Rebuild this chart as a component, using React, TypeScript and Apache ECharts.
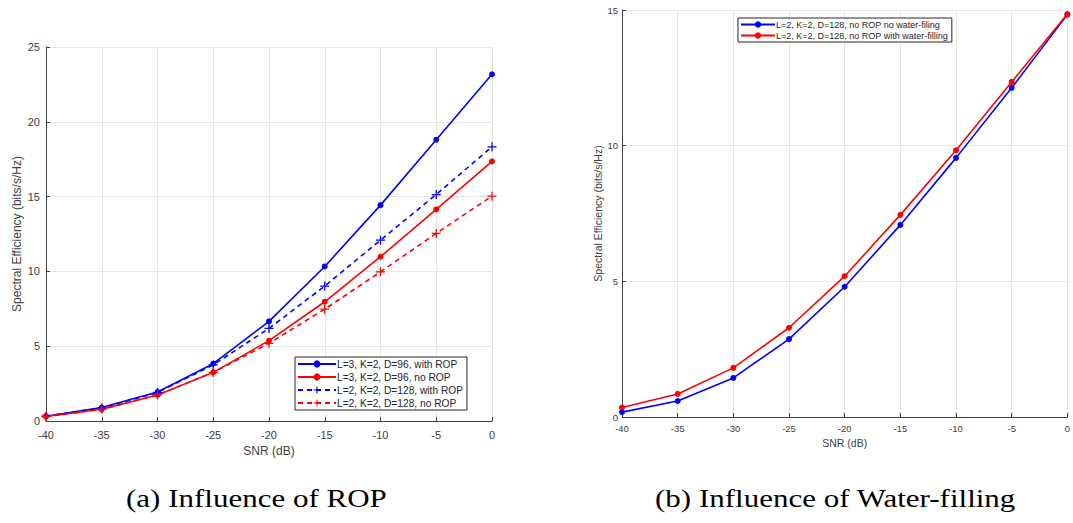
import React, { useEffect, useRef } from "react";
import * as echarts from "echarts";

const snr = [-40, -35, -30, -25, -20, -15, -10, -5, 0];

// Left panel: Influence of ROP
const d96WithRop = [0.32, 0.9, 1.94, 3.83, 6.66, 10.33, 14.43, 18.8, 23.18];
const d96NoRop = [0.3, 0.78, 1.74, 3.25, 5.37, 7.97, 10.98, 14.14, 17.35];
const d128WithRop = [0.32, 0.88, 1.9, 3.75, 6.19, 9.02, 12.09, 15.14, 18.33];
const d128NoRop = [0.3, 0.78, 1.74, 3.25, 5.19, 7.48, 9.97, 12.54, 15.03];

// Right panel: Influence of Water-filling
const noWaterFilling = [0.18, 0.59, 1.44, 2.87, 4.8, 7.08, 9.55, 12.13, 14.83];
const withWaterFilling = [0.35, 0.85, 1.81, 3.29, 5.19, 7.45, 9.83, 12.35, 14.85];

const leftNames = [
  "L=3, K=2, D=96, with ROP",
  "L=3, K=2, D=96, no ROP",
  "L=2, K=2, D=128, with ROP",
  "L=2, K=2, D=128, no ROP",
];
const rightNames = [
  "L=2, K=2, D=128, no ROP no water-filing",
  "L=2, K=2, D=128, no ROP with water-filling",
];
const captions = ["(a) Influence of ROP", "(b) Influence of Water-filling"];

const BLUE = "#0000ff";
const RED = "#ff0000";
const PLUS = "path://M-0.7,-5H0.7V-0.7H5V0.7H0.7V5H-0.7V0.7H-5V-0.7H-0.7Z";
const FONT = "Liberation Sans, Arial, sans-serif";
const AX = "#404040";

const pairs = (ys: number[]) => snr.map((x, i) => [x, ys[i]]);

function axisCommon(fontSize: number, margin: number) {
  return {
    axisLine: { show: true, onZero: false, lineStyle: { color: AX, width: 1 } },
    axisTick: { show: true, inside: true, length: 4, lineStyle: { color: AX } },
    axisLabel: { color: AX, fontSize, fontFamily: FONT, margin },
    splitLine: { show: true, lineStyle: { color: "#e6e6e6", width: 1 } },
  };
}

export default function App() {
  const ref = useRef<HTMLDivElement>(null);
  useEffect(() => {
    if (!ref.current) return;
    const chart = echarts.init(ref.current, undefined, { renderer: "svg" });
    const line = (
      name: string,
      ys: number[],
      color: string,
      dashed: boolean,
      idx: number
    ) => ({
      name,
      type: "line",
      xAxisIndex: idx,
      yAxisIndex: idx,
      data: pairs(ys),
      symbol: dashed ? PLUS : "circle",
      symbolSize: dashed ? 9 : 6,
      showAllSymbol: true,
      itemStyle: { color },
      lineStyle: { color, width: 1.6, type: dashed ? [5, 4] : "solid" },
      z: 3,
    });
    const captionFont = "25px 'Liberation Serif', 'Times New Roman', serif";
    chart.setOption({
      animation: false,
      backgroundColor: "#ffffff",
      grid: [
        { left: 46, right: 581, top: 47, bottom: 102 },
        { left: 622, right: 4, top: 10, bottom: 106 },
      ],
      xAxis: [
        {
          type: "value",
          gridIndex: 0,
          min: -40,
          max: 0,
          interval: 5,
          name: "SNR (dB)",
          nameLocation: "middle",
          nameGap: 23,
          ...axisCommon(11, 8),
          nameTextStyle: { color: AX, fontFamily: FONT, fontSize: 12 },
        },
        {
          type: "value",
          gridIndex: 1,
          min: -40,
          max: 0,
          interval: 5,
          name: "SNR (dB)",
          nameLocation: "middle",
          nameGap: 18,
          ...axisCommon(9.5, 6),
          nameTextStyle: { color: AX, fontFamily: FONT, fontSize: 10.5 },
        },
      ],
      yAxis: [
        {
          type: "value",
          gridIndex: 0,
          min: 0,
          max: 25,
          interval: 5,
          name: "Spectral Efficiency (bits/s/Hz)",
          nameLocation: "middle",
          nameGap: 23,
          ...axisCommon(11, 6),
          nameTextStyle: { color: AX, fontFamily: FONT, fontSize: 12 },
        },
        {
          type: "value",
          gridIndex: 1,
          min: 0,
          max: 15,
          interval: 5,
          name: "Spectral Efficiency (bits/s/Hz)",
          nameLocation: "middle",
          nameGap: 19,
          ...axisCommon(9.5, 4),
          nameTextStyle: { color: AX, fontFamily: FONT, fontSize: 10.5 },
        },
      ],
      legend: [
        {
          data: leftNames,
          orient: "vertical",
          left: 295,
          top: 357,
          backgroundColor: "#ffffff",
          borderColor: "#262626",
          borderWidth: 1,
          borderRadius: 0,
          padding: [2, 4, 2, 2],
          itemGap: 3,
          itemWidth: 38,
          itemHeight: 9,
          textStyle: { fontSize: 10.2, fontFamily: FONT, color: "#262626", padding: [0, 0, 0, -4] },
        },
        {
          data: rightNames,
          orient: "vertical",
          left: 738,
          top: 18,
          backgroundColor: "#ffffff",
          borderColor: "#262626",
          borderWidth: 1,
          borderRadius: 0,
          padding: [2, 4, 2, 2],
          itemGap: 2,
          itemWidth: 34,
          itemHeight: 8,
          textStyle: { fontSize: 9, fontFamily: FONT, color: "#262626", padding: [0, 0, 0, -4] },
        },
      ],
      series: [
        line(leftNames[0], d96WithRop, BLUE, false, 0),
        line(leftNames[1], d96NoRop, RED, false, 0),
        line(leftNames[2], d128WithRop, BLUE, true, 0),
        line(leftNames[3], d128NoRop, RED, true, 0),
        line(rightNames[0], noWaterFilling, BLUE, false, 1),
        line(rightNames[1], withWaterFilling, RED, false, 1),
      ],
      graphic: [
        {
          type: "text",
          x: 126,
          y: 486,
          scaleX: 1.24,
          style: { text: captions[0], font: captionFont, fill: "#000000" },
        },
        {
          type: "text",
          x: 655,
          y: 486,
          scaleX: 1.24,
          style: { text: captions[1], font: captionFont, fill: "#000000" },
        },
      ],
    });
    return () => chart.dispose();
  }, []);
  return (
    <div
      ref={ref}
      style={{ position: "absolute", left: 0, top: 0, width: 1073, height: 523 }}
    />
  );
}
